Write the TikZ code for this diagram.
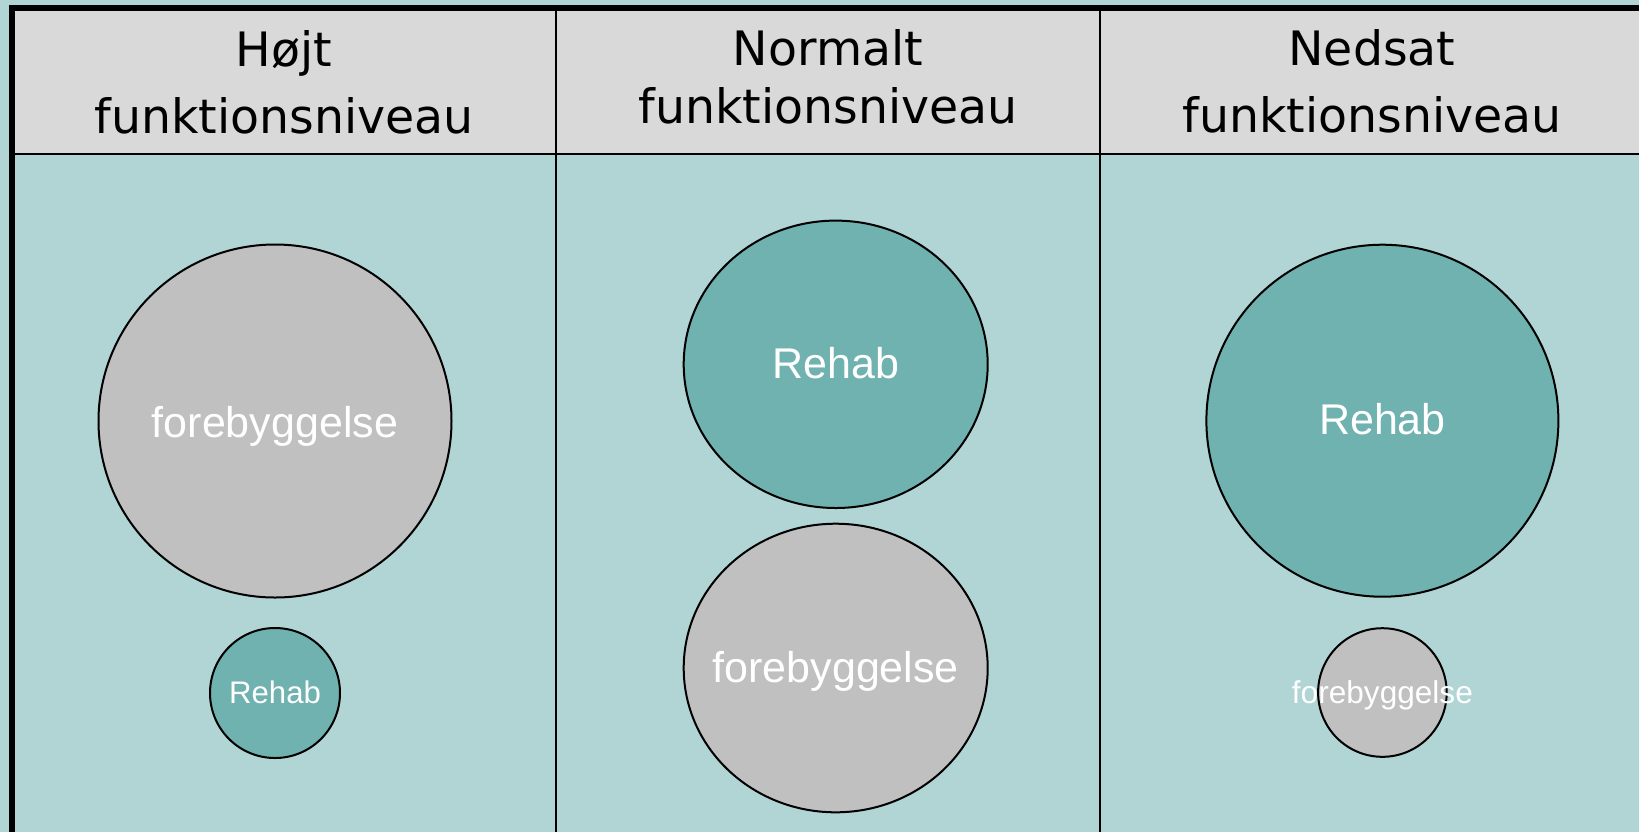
\documentclass[tikz,border=0pt]{standalone}
\usepackage{fontspec}
\setmainfont{DejaVu Sans}
\newfontfamily\ballfont{Liberation Sans}
\usetikzlibrary{shapes.geometric}

\definecolor{paleTeal}{HTML}{B1D5D4}
\definecolor{midTeal}{HTML}{6FB2B0}
\definecolor{headGrey}{HTML}{D9D9D9}
\definecolor{ballGrey}{HTML}{C0C0C0}

\tikzset{
    headtext/.style={anchor=base, inner sep=0pt, font=\fontsize{23.7}{28}\selectfont},
    ball/.style={circle, draw=black, line width=1pt, inner sep=0pt},
    rehabball/.style={ball, fill=midTeal},
    foreball/.style={ball, fill=ballGrey},
    balltext/.style={anchor=base, inner sep=0pt, text=white, font=\ballfont\fontsize{#1}{#1}\selectfont},
    balltext/.default=21.5
}

\begin{document}
\begin{tikzpicture}[x=0.5pt, y=-0.5pt]
    \useasboundingbox (0,0) rectangle (1639,832);
    \fill[paleTeal] (0,0) rectangle (1639,832);

    % header band and column rules
    \fill[headGrey] (12,8) rectangle (1639,154);
    \draw[line width=1pt] (12,154) -- (1639,154);
    \foreach \x in {555.5, 1100} {
        \draw[line width=1pt] (\x,8) -- (\x,832);
    }
    \draw[line width=3pt] (12,832) -- (12,8) -- (1639,8);

    % column headings
    \node[headtext] (hojt) at (284,66) {Højt};
    \node[headtext] (hojtniv) at (284,133) {funktionsniveau};
    \node[headtext] (normalt) at (828,65) {Normalt};
    \node[headtext] (normaltniv) at (828,123) {funktionsniveau};
    \node[headtext] (nedsat) at (1372,65) {Nedsat};
    \node[headtext] (nedsatniv) at (1372,132) {funktionsniveau};

    % high level: mostly prevention
    \node[foreball, minimum size=176.5pt] (fore1) at (275,421) {};
    \node[balltext] (fore1txt) at ([yshift=-8pt]fore1.center) {forebyggelse};
    \node[rehabball, minimum size=65pt] (rehab1) at (275,693) {};
    \node[balltext=15.6] (rehab1txt) at ([yshift=-5pt]rehab1.center) {Rehab};

    % normal level: even split
    \node[rehabball, ellipse, minimum width=152pt, minimum height=143.7pt] (rehab2) at (835.7,364.3) {};
    \node[balltext] (rehab2txt) at ([yshift=-7pt]rehab2.center) {Rehab};
    \node[foreball, ellipse, minimum width=152pt, minimum height=144.3pt] (fore2) at (835.7,668) {};
    \node[balltext] (fore2txt) at ([yshift=-7pt]fore2.center) {forebyggelse};

    % reduced level: mostly rehab
    \node[rehabball, minimum size=176pt] (rehab3) at (1382.4,420.7) {};
    \node[balltext] (rehab3txt) at ([yshift=-7pt]rehab3.center) {Rehab};
    \node[foreball, minimum size=64.3pt] (fore3) at (1382.4,692.5) {};
    \node[balltext=15.8] (fore3txt) at ([yshift=-5.7pt]fore3.center) {forebyggelse};
\end{tikzpicture}
\end{document}
